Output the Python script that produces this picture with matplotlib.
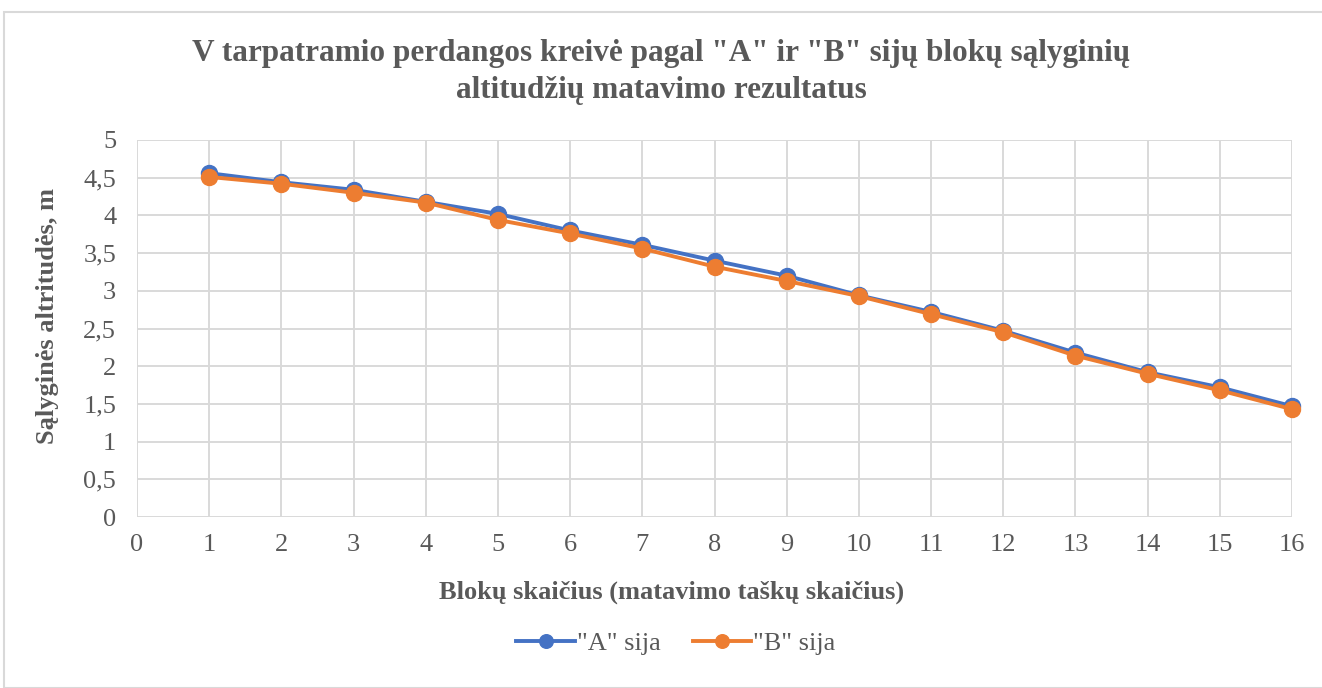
import numpy as np
import matplotlib as mpl
import matplotlib.pyplot as plt
from matplotlib.patches import Rectangle

mpl.use('Agg')
plt.rcParams['font.family'] = ['Liberation Serif', 'DejaVu Serif']

# matavimo taškai
blocks = list(range(1, 17))
sija_a = [4.56, 4.44, 4.34, 4.18, 4.02, 3.80, 3.61, 3.40, 3.20, 2.94,
          2.72, 2.47, 2.18, 1.92, 1.72, 1.47]
sija_b = [4.51, 4.42, 4.30, 4.17, 3.94, 3.76, 3.56, 3.32, 3.13, 2.93,
          2.69, 2.45, 2.14, 1.90, 1.68, 1.43]
x_ticks = list(range(0, 17))
y_ticks = [0, 0.5, 1, 1.5, 2, 2.5, 3, 3.5, 4, 4.5, 5]
y_labels = ['0', '0,5', '1', '1,5', '2', '2,5', '3', '3,5', '4', '4,5', '5']

W, H = 1322, 688
fig = plt.figure(figsize=(W / 100, H / 100), dpi=100)
fig.patches.append(Rectangle((4 / W, 0), 1.2, (H - 12) / H, transform=fig.transFigure,
                             facecolor='white', edgecolor='#d9d9d9', lw=1.5, zorder=-5))

ax = fig.add_axes([137 / W, 1 - 517 / H, (1292 - 137) / W, (517 - 140) / H])
ax.plot(blocks, sija_a, color='#4472C4', lw=2.8, marker='o', ms=11.5, label='"A" sija',
        zorder=3, clip_on=False)
ax.plot(blocks, sija_b, color='#ED7D31', lw=2.8, marker='o', ms=11.5, label='"B" sija',
        zorder=4, clip_on=False)

ax.set_xlim(0, 16)
ax.set_ylim(0, 5)
ax.set_xticks(x_ticks)
ax.set_yticks(y_ticks)
ax.set_yticklabels(y_labels)
ax.grid(True, color='#d9d9d9', lw=1.4)
ax.set_axisbelow(True)
for s in ax.spines.values():
    s.set_visible(False)
ax.tick_params(axis='both', length=0, labelsize=19, labelcolor='#595959')
ax.tick_params(axis='y', pad=15)
ax.tick_params(axis='x', pad=12)

fig.text(672 / W, 1 - 592 / H, 'Blokų skaičius (matavimo taškų skaičius)', ha='center',
         va='center', fontsize=19, fontweight='bold', color='#595959')
fig.text(48 / W, 1 - 316 / H, 'Sąlyginės altritudės, m', ha='center', va='center',
         rotation=90, fontsize=19, fontweight='bold', color='#595959')
fig.text(0.5, 1 - 72 / H, 'V tarpatramio perdangos kreivė pagal "A" ir "B" sijų blokų sąlyginių\naltitudžių matavimo rezultatus',
         ha='center', va='center', fontsize=22.5, fontweight='bold', color='#595959',
         linespacing=1.38)

fig.legend(loc='center', bbox_to_anchor=(676 / W, 1 - 643 / H), ncol=2, frameon=False,
           fontsize=19, labelcolor='#595959', handlelength=2.2, columnspacing=1.2,
           handletextpad=0.1, markerscale=0.85)

fig.savefig('out.png', dpi=100)
